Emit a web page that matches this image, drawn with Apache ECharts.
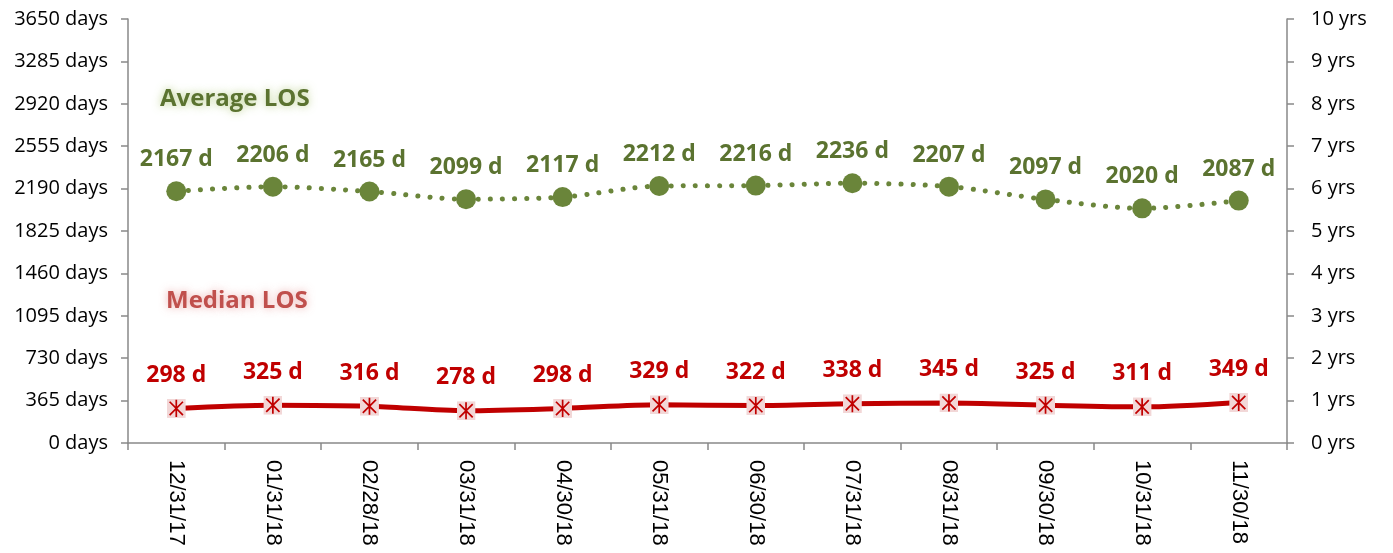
<!DOCTYPE html>
<html>
<head>
<meta charset="utf-8">
<script src="https://cdn.jsdelivr.net/npm/echarts@6/dist/echarts.min.js"></script>
<style>
  html, body { margin: 0; padding: 0; background: #fff; }
  #chart { width: 1393px; height: 553px; }
</style>
</head>
<body>
<div id="chart"></div>
<script>
// categories and values
const dates = ['12/31/17', '01/31/18', '02/28/18', '03/31/18', '04/30/18', '05/31/18',
  '06/30/18', '07/31/18', '08/31/18', '09/30/18', '10/31/18', '11/30/18']
const averageLos = [2167, 2206, 2165, 2099, 2117, 2212, 2216, 2236, 2207, 2097, 2020, 2087]
const medianLos = [298, 325, 316, 278, 298, 329, 322, 338, 345, 325, 311, 349]

const green = '#6a853a'
const greenText = '#5b7330'
const red = '#c00000'
const axisGray = '#898989'
const labelFont = '"Open Sans", "Noto Sans", sans-serif'

// square marker with an asterisk, like the Excel one
const starSvg = '<svg xmlns="http://www.w3.org/2000/svg" width="20" height="20" viewBox="0 0 20 20">' +
  '<rect x="0" y="0" width="20" height="20" fill="#f2d7d7"/>' +
  '<path d="M3 3 L17 17 M17 3 L3 17 M10 1 L10 19" stroke="#c00000" stroke-width="1.8" fill="none"/>' +
  '</svg>'
const starSymbol = 'image://data:image/svg+xml;charset=utf-8,' + encodeURIComponent(starSvg)

const chart = echarts.init(document.getElementById('chart'))

const option = {
  animation: false,
  grid: { left: 128, right: 106, top: 19, bottom: 110 },
  graphic: [
    {
      type: 'text', left: 160, top: 87,
      style: {
        text: 'Average LOS', fill: greenText,
        font: 'bold 24px ' + labelFont,
        textShadowColor: 'rgba(155,187,89,0.7)', textShadowBlur: 8
      }
    },
    {
      type: 'text', left: 166, top: 289,
      style: {
        text: 'Median LOS', fill: '#c0504d',
        font: 'bold 24px ' + labelFont,
        textShadowColor: 'rgba(230,150,150,0.8)', textShadowBlur: 8
      }
    }
  ],
  xAxis: {
    type: 'category',
    data: dates,
    boundaryGap: true,
    axisLine: { lineStyle: { color: axisGray, width: 1.5 } },
    axisTick: { show: true, length: 7, lineStyle: { color: axisGray, width: 1.5 } },
    axisLabel: {
      rotate: -90, margin: 17, color: '#000',
      fontFamily: '"Liberation Sans", Arial, sans-serif', fontSize: 22
    },
    splitLine: { show: false }
  },
  yAxis: [
    {
      type: 'value', min: 0, max: 3650, interval: 365,
      axisLine: { show: true, lineStyle: { color: axisGray, width: 1.5 } },
      axisTick: { show: true, length: 7, lineStyle: { color: axisGray, width: 1.5 } },
      axisLabel: {
        formatter: v => v + ' days', color: '#000', margin: 20,
        fontFamily: labelFont, fontSize: 20
      },
      splitLine: { show: false }
    },
    {
      type: 'value', min: 0, max: 10, interval: 1, position: 'right',
      axisLine: { show: true, lineStyle: { color: axisGray, width: 1.5 } },
      axisTick: { show: true, length: 7, lineStyle: { color: axisGray, width: 1.5 } },
      axisLabel: {
        formatter: v => v + ' yrs', color: '#000', margin: 24,
        fontFamily: labelFont, fontSize: 20
      },
      splitLine: { show: false }
    }
  ],
  series: [
    {
      name: 'Average LOS',
      type: 'line',
      data: averageLos,
      smooth: 0.3,
      symbol: 'circle',
      symbolSize: 20,
      itemStyle: { color: green },
      lineStyle: { color: green, width: 5, type: [0.1, 12], cap: 'round' },
      label: {
        show: true, position: 'top', distance: 10,
        formatter: '{c} d', color: greenText,
        fontFamily: labelFont, fontWeight: 'bold', fontSize: 23
      },
      z: 3
    },
    {
      name: 'Median LOS',
      type: 'line',
      data: medianLos,
      smooth: 0.3,
      symbol: starSymbol,
      symbolSize: 19,
      itemStyle: { color: red },
      lineStyle: { color: red, width: 5 },
      label: {
        show: true, position: 'top', distance: 12,
        formatter: '{c} d', color: red,
        fontFamily: labelFont, fontWeight: 'bold', fontSize: 23
      },
      z: 3
    }
  ]
}

chart.setOption(option)
</script>
</body>
</html>
